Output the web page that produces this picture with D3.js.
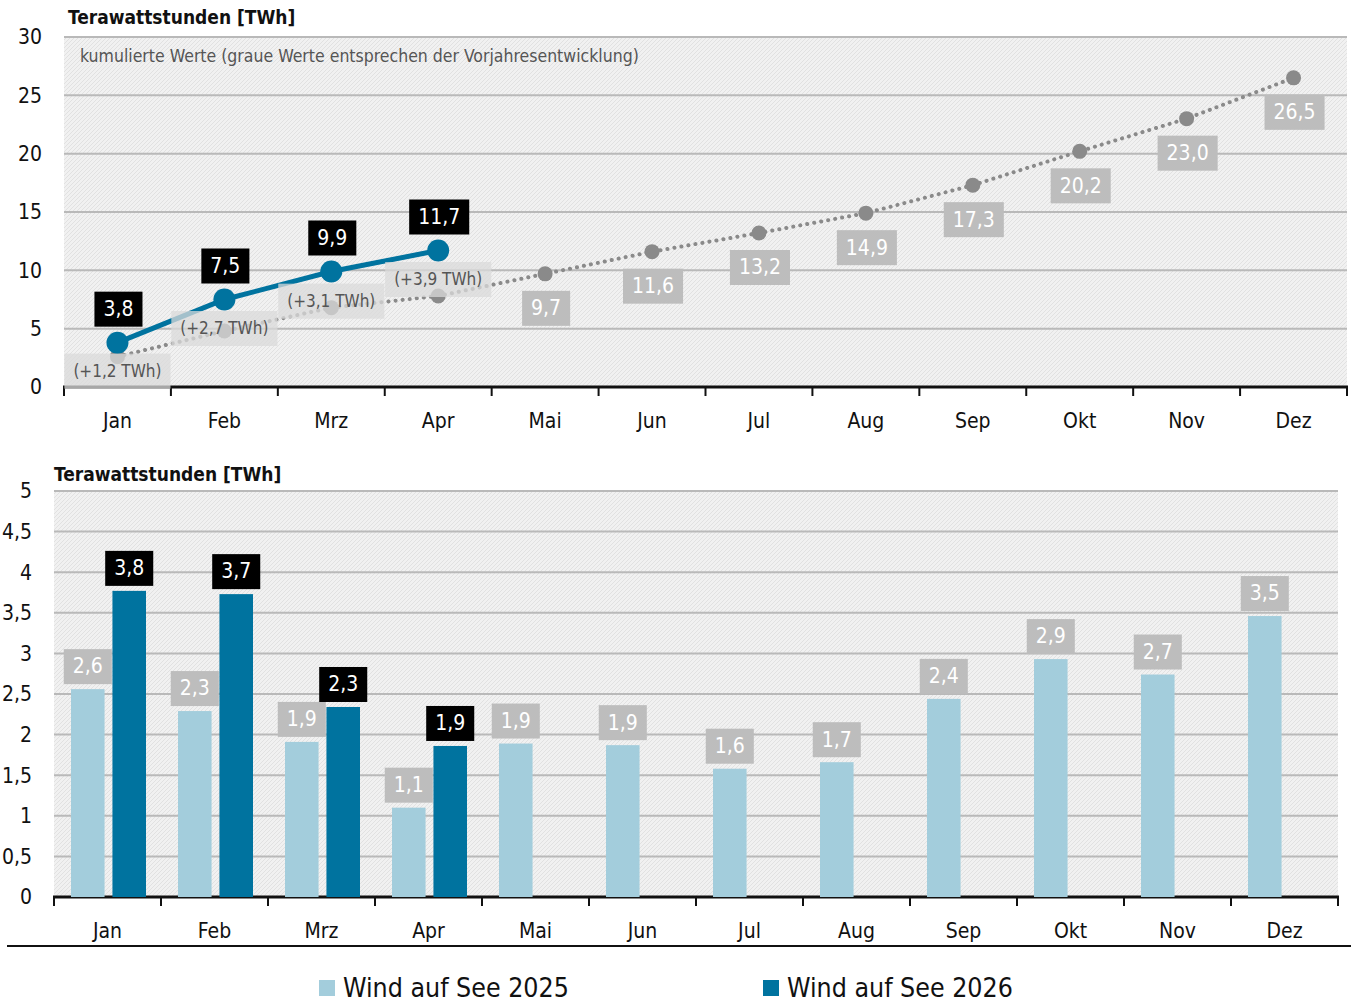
<!DOCTYPE html>
<html lang="de">
<head>
<meta charset="UTF-8">
<title>Wind auf See</title>
<script src="https://d3js.org/d3.v7.min.js"></script>
<style>
  body { margin: 0; background: #fff; }
  text { font-family: "DejaVu Sans Condensed", "Liberation Sans Narrow", sans-serif; }
  .grid line { stroke: #b9b9b9; stroke-width: 2px; }
  .tick-label { font-size: 21px; fill: #111; }
</style>
</head>
<body>
<script>
// data
var months = ["Jan", "Feb", "Mrz", "Apr", "Mai", "Jun", "Jul", "Aug", "Sep", "Okt", "Nov", "Dez"];
var cum2026 = [3.8, 7.5, 9.9, 11.7];
var cum2025 = [2.6, 4.8, 6.8, 7.8, 9.7, 11.6, 13.2, 14.9, 17.3, 20.2, 23.0, 26.5];
var deltas = ["(+1,2 TWh)", "(+2,7 TWh)", "(+3,1 TWh)", "(+3,9 TWh)"];
var monthly2025 = [2.56, 2.29, 1.91, 1.10, 1.89, 1.87, 1.58, 1.66, 2.44, 2.93, 2.74, 3.46];
var monthly2026 = [3.77, 3.73, 2.34, 1.86];
var topTicks = [0, 5, 10, 15, 20, 25, 30];
var bottomTicks = [0, 0.5, 1, 1.5, 2, 2.5, 3, 3.5, 4, 4.5, 5];
var seriesNames = ["Wind auf See 2025", "Wind auf See 2026"];

var light = "#a3cddc", dark = "#00739f";
var loc = d3.formatLocale({decimal: ",", thousands: ".", grouping: [3], currency: ["", " €"]});
var fmtTick = loc.format("~f"), fmt1 = loc.format(".1f");

var svg = d3.select("body").append("svg")
    .attr("width", 1351).attr("height", 1005);

var pat = svg.append("defs").append("pattern")
    .attr("id", "hatch").attr("patternUnits", "userSpaceOnUse")
    .attr("width", 4).attr("height", 4);
pat.append("rect").attr("width", 4).attr("height", 4).attr("fill", "#f1f1f1");
pat.append("path").attr("d", "M-1,1 l2,-2 M0,4 l4,-4 M3,5 l2,-2")
    .attr("stroke", "#e1e1e1").attr("stroke-width", 1);

// label box helper
function boxLabel(g, x, y, txt, bg, fg, size, op) {
    var grp = g.append("g");
    var r = grp.append("rect").attr("fill", bg).attr("opacity", op || 1);
    var t = grp.append("text").attr("x", x).attr("y", y).attr("dy", "0.35em")
        .attr("text-anchor", "middle").attr("font-size", size).attr("fill", fg).text(txt);
    var w = t.node().getComputedTextLength() + 18;
    r.attr("x", x - w / 2).attr("y", y - 17).attr("width", w).attr("height", 35);
    return grp;
}

function axisFrame(x, y, ticks, title, titleX, titleY, labelRight) {
    var g = svg.append("g");
    g.append("rect").attr("x", x.range()[0]).attr("y", y.range()[1])
        .attr("width", x.range()[1] - x.range()[0])
        .attr("height", y.range()[0] - y.range()[1]).attr("fill", "url(#hatch)");
    g.append("g").attr("class", "grid").selectAll("line").data(ticks.slice(1)).enter().append("line")
        .attr("x1", x.range()[0]).attr("x2", x.range()[1])
        .attr("y1", function(d) { return y(d); }).attr("y2", function(d) { return y(d); });
    g.selectAll(".ylab").data(ticks).enter().append("text")
        .attr("class", "tick-label").attr("x", labelRight).attr("text-anchor", "end")
        .attr("y", function(d) { return y(d); }).attr("dy", "0.35em")
        .text(function(d) { return fmtTick(d); });
    // x axis with ticks at band edges
    var bw = x.bandwidth();
    g.append("line").attr("x1", x.range()[0] - 1).attr("x2", x.range()[1] + 1)
        .attr("y1", y(0)).attr("y2", y(0)).attr("stroke", "#111").attr("stroke-width", 3);
    var edges = months.map(function(m) { return x(m); }).concat([x.range()[1]]);
    g.selectAll(".xt").data(edges).enter().append("line")
        .attr("x1", function(d) { return d; }).attr("x2", function(d) { return d; })
        .attr("y1", y(0)).attr("y2", y(0) + 9).attr("stroke", "#111").attr("stroke-width", 2);
    g.selectAll(".xlab").data(months).enter().append("text")
        .attr("class", "tick-label").attr("text-anchor", "middle")
        .attr("x", function(d) { return x(d) + bw / 2; }).attr("y", y(0) + 41)
        .text(function(d) { return d; });
    g.append("text").attr("x", titleX).attr("y", titleY).attr("font-size", 19)
        .attr("font-weight", "bold").attr("fill", "#111").text(title);
    return g;
}

// ---------- top chart: cumulative ----------
var xT = d3.scaleBand().domain(months).range([64, 1347]);
var yT = d3.scaleLinear().domain([0, 30]).range([387, 37]);
axisFrame(xT, yT, topTicks, "Terawattstunden [TWh]", 68, 24, 42);
svg.append("text").attr("x", 80).attr("y", 62).attr("font-size", 17.5).attr("fill", "#555")
    .text("kumulierte Werte (graue Werte entsprechen der Vorjahresentwicklung)");

var cxT = function(i) { return xT(months[i]) + xT.bandwidth() / 2; };
var line = d3.line().x(function(d, i) { return cxT(i); }).y(function(d) { return yT(d); });

var topG = svg.append("g");
topG.append("path").datum(cum2025).attr("d", line).attr("fill", "none")
    .attr("stroke", "#8a8a8a").attr("stroke-width", 4)
    .attr("stroke-dasharray", "0.1 7").attr("stroke-linecap", "round");
topG.selectAll(".gdot").data(cum2025).enter().append("circle")
    .attr("cx", function(d, i) { return cxT(i); }).attr("cy", function(d) { return yT(d); })
    .attr("r", 7.5).attr("fill", "#8a8a8a");
topG.append("path").datum(cum2026).attr("d", line).attr("fill", "none")
    .attr("stroke", dark).attr("stroke-width", 5);
topG.selectAll(".bdot").data(cum2026).enter().append("circle")
    .attr("cx", function(d, i) { return cxT(i); }).attr("cy", function(d) { return yT(d); })
    .attr("r", 11).attr("fill", dark);

// delta annotations (positions relative to previous-year points)
var deltaDy = [14, -3, -7, -17];
deltas.forEach(function(t, i) {
    boxLabel(topG, cxT(i), yT(cum2025[i]) + deltaDy[i], t, "#dadada", "#555", 17, 0.75);
});
cum2025.forEach(function(v, i) {
    if (i < cum2026.length) return;
    boxLabel(topG, cxT(i) + 1, yT(v) + 34, fmt1(v), "#bdbdbd", "#fff", 21);
});
cum2026.forEach(function(v, i) {
    boxLabel(topG, cxT(i) + 1, yT(v) - 34, fmt1(v), "#000", "#fff", 21);
});

// ---------- bottom chart: monthly ----------
var xB = d3.scaleBand().domain(months).range([54, 1338]);
var yB = d3.scaleLinear().domain([0, 5]).range([897, 491]);
axisFrame(xB, yB, bottomTicks, "Terawattstunden [TWh]", 54, 481, 32);
var xSub = d3.scaleBand().domain(["2025", "2026"]).range([17, 92]).paddingInner(0.19);

var bars = svg.append("g");
bars.selectAll(".b25").data(monthly2025).enter().append("rect")
    .attr("x", function(d, i) { return xB(months[i]) + xSub("2025"); })
    .attr("width", xSub.bandwidth())
    .attr("y", function(d) { return yB(d); })
    .attr("height", function(d) { return yB(0) - yB(d); })
    .attr("fill", light);
bars.selectAll(".b26").data(monthly2026).enter().append("rect")
    .attr("x", function(d, i) { return xB(months[i]) + xSub("2026"); })
    .attr("width", xSub.bandwidth())
    .attr("y", function(d) { return yB(d); })
    .attr("height", function(d) { return yB(0) - yB(d); })
    .attr("fill", dark);
monthly2025.forEach(function(v, i) {
    boxLabel(bars, xB(months[i]) + xSub("2025") + xSub.bandwidth() / 2, yB(v) - 23, fmt1(v), "#bdbdbd", "#fff", 21);
});
monthly2026.forEach(function(v, i) {
    boxLabel(bars, xB(months[i]) + xSub("2026") + xSub.bandwidth() / 2, yB(v) - 23, fmt1(v), "#000", "#fff", 21);
});

// separator + legend
svg.append("line").attr("x1", 7).attr("x2", 1351).attr("y1", 946).attr("y2", 946)
    .attr("stroke", "#111").attr("stroke-width", 2);
var legend = svg.append("g");
var legX = [319, 763];
seriesNames.forEach(function(n, i) {
    legend.append("rect").attr("x", legX[i]).attr("y", 980).attr("width", 16).attr("height", 16)
        .attr("fill", i === 0 ? light : dark);
    legend.append("text").attr("x", legX[i] + 24).attr("y", 997).attr("font-size", 26.5)
        .attr("fill", "#111").text(n);
});
</script>
</body>
</html>
